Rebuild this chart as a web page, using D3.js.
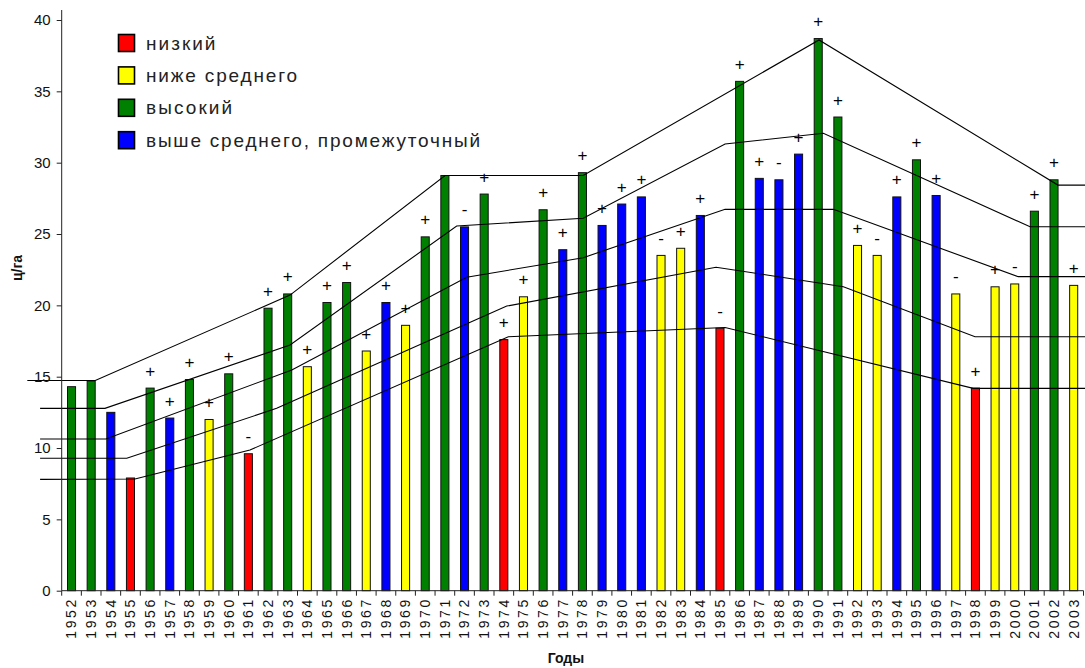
<!DOCTYPE html>
<html><head><meta charset="utf-8">
<script src="https://cdn.jsdelivr.net/npm/d3@7/dist/d3.min.js"></script>
<style>body{margin:0;background:#fff}</style>
</head><body>
<svg id="c" width="1085" height="668"></svg>
<script>
const years = [1952,1953,1954,1955,1956,1957,1958,1959,1960,1961,
  1962,1963,1964,1965,1966,1967,1968,1969,1970,1971,
  1972,1973,1974,1975,1976,1977,1978,1979,1980,1981,
  1982,1983,1984,1985,1986,1987,1988,1989,1990,1991,
  1992,1993,1994,1995,1996,1997,1998,1999,2000,2001,
  2002,2003];
const yields = [14.3,14.7,12.5,7.9,14.2,12.1,14.8,12.0,15.2,9.6,
  19.8,20.8,15.7,20.2,21.6,16.8,20.2,18.6,24.8,29.1,
  25.5,27.8,17.6,20.6,26.7,23.9,29.3,25.6,27.1,27.6,
  23.5,24.0,26.3,18.4,35.7,28.9,28.8,30.6,38.7,33.2,
  24.2,23.5,27.6,30.2,27.7,20.8,14.2,21.3,21.5,26.6,
  28.8,21.4];
const classes = ["high","high","above","low","high","above","high","below","high","low",
  "high","high","below","high","high","below","above","below","high","high",
  "above","high","low","below","high","above","high","above","above","above",
  "below","below","above","low","high","above","above","above","high","high",
  "below","below","above","high","above","below","low","below","below","high",
  "high","below"];
const signs = ["","","","","+","+","+","+","+","-",
  "+","+","+","+","+","+","+","+","+","",
  "-","+","+","+","+","+","+","+","+","+",
  "-","+","+","-","+","+","-","+","+","+",
  "+","-","+","+","+","-","+","+","-","+",
  "+","+"];
const legendKeys = ["low","below","high","above"];
const legendLabels = ["низкий","ниже среднего","высокий","выше среднего, промежуточный"];
const classColors = ["#ff0000","#ffff00","#008000","#0000ff"];
const yTicks = [0,5,10,15,20,25,30,35,40];
// threshold lines: [year position, value]
const line1 = [[1949.75,14.73],[1953.21,14.73],[1963.12,20.72],[1971.01,29.1],[1978.04,29.1],[1990.04,38.6],[2002.2,28.43],[2003.58,28.43]];
const line2 = [[1950.4,12.78],[1953.7,12.78],[1963.12,17.22],[1971.6,25.56],[1978.04,26.1],[1985.26,31.31],[1990.26,32.06],[2000.78,25.51],[2003.58,25.51]];
const line3 = [[1950.4,10.63],[1953.75,10.63],[1963.21,15.47],[1972.11,21.97],[1978.04,23.34],[1985.26,26.73],[1990.77,26.73],[2000.18,22.01],[2003.58,22.01]];
const line4 = [[1950.4,9.28],[1954.81,9.28],[1962.44,12.78],[1974.15,19.95],[1984.8,22.67],[1991.28,21.31],[1997.98,17.8],[2003.58,17.8]];
const line5 = [[1950.4,7.8],[1955.23,7.83],[1961.08,9.86],[1974.23,17.8],[1985.26,18.45],[1997.89,14.18],[2003.58,14.18]];
const yTitle = "ц/га";
const xTitle = "Годы";

const svg = d3.select("#c");
const X0 = 61.7, X1 = 1083.5, Y0 = 590.7, Y1 = 20;
const color = d3.scaleOrdinal().domain(legendKeys).range(classColors);
const x = d3.scaleBand().domain(years).range([X0, X1]).paddingInner(0.59).paddingOuter(0.295);
const y = d3.scaleLinear().domain([0, 40]).range([Y0, Y1]);
const bw = x.bandwidth();
const gap = (x.step() - bw) / 2;
const xLin = d3.scaleLinear().domain([years[0], years[years.length-1]])
  .range([x(years[0]) + bw/2, x(years[years.length-1]) + bw/2]);
const font = "'Liberation Sans', Arial, sans-serif";

// bars
svg.append("g").selectAll("rect").data(years).join("rect")
  .attr("x", d => x(d)).attr("width", bw)
  .attr("y", (d,i) => y(yields[i])).attr("height", (d,i) => Y0 - y(yields[i]))
  .attr("fill", (d,i) => color(classes[i]))
  .attr("stroke", "#111").attr("stroke-width", 1);

// lines
const lineGen = d3.line().x(d => xLin(d[0])).y(d => y(d[1]));
svg.append("g").selectAll("path").data([line1,line2,line3,line4,line5]).join("path")
  .attr("d", lineGen).attr("fill", "none").attr("stroke", "#000").attr("stroke-width", 1.1);

// signs
svg.append("g").selectAll("text").data(years).join("text")
  .attr("x", d => x(d) + bw/2).attr("y", (d,i) => y(yields[i]) - 11.5)
  .attr("text-anchor", "middle").attr("font-family", font).attr("font-size", 17)
  .attr("fill", "#000")
  .text((d,i) => signs[i]);

// y axis
const yAxis = svg.append("g").attr("transform", `translate(${X0},0)`)
  .call(d3.axisLeft(y).tickValues(yTicks).tickSize(5).tickPadding(6));
yAxis.select(".domain").remove();
yAxis.selectAll("text").attr("font-family", font).attr("font-size", 15).attr("fill", "#111");
yAxis.selectAll("line").attr("stroke", "#222");
svg.append("line").attr("x1", X0).attr("x2", X0).attr("y1", 10).attr("y2", Y0).attr("stroke", "#222");

// x axis
svg.append("line").attr("x1", X0).attr("x2", X1).attr("y1", Y0).attr("y2", Y0).attr("stroke", "#222");
svg.append("g").selectAll("line").data(years.concat([null])).join("line")
  .attr("x1", (d,i) => i < years.length ? x(d) - gap : x(years[years.length-1]) + bw + gap)
  .attr("x2", (d,i) => i < years.length ? x(d) - gap : x(years[years.length-1]) + bw + gap)
  .attr("y1", Y0).attr("y2", Y0 + 5).attr("stroke", "#222");
svg.append("g").selectAll("text").data(years).join("text")
  .attr("transform", d => `translate(${x(d) + bw/2},${Y0 + 9}) rotate(-90)`)
  .attr("text-anchor", "end").attr("dy", "0.35em")
  .attr("font-family", font).attr("font-size", 14).attr("fill", "#111")
  .attr("textLength", 39).attr("lengthAdjust", "spacing")
  .text(d => d);

// titles
svg.append("text").attr("transform", `translate(22,268) rotate(-90)`)
  .attr("text-anchor", "middle").attr("font-family", font).attr("font-weight", "bold")
  .attr("font-size", 14).attr("fill", "#111").text(yTitle);
svg.append("text").attr("x", 566).attr("y", 663)
  .attr("text-anchor", "middle").attr("font-family", font).attr("font-weight", "bold")
  .attr("font-size", 14).attr("fill", "#111").text(xTitle);

// legend
const lg = svg.append("g");
legendKeys.forEach((k, i) => {
  const cy = 43 + i * 32.4;
  lg.append("rect").attr("x", 118.5).attr("y", cy - 8.5).attr("width", 16).attr("height", 17)
    .attr("fill", color(k)).attr("stroke", "#000").attr("stroke-width", 1.6);
  lg.append("text").attr("x", 146).attr("y", cy + 6.5)
    .attr("font-family", font).attr("font-size", 19).attr("fill", "#222")
    .attr("class", "lt").text(legendLabels[i]);
});
// stretch legend text to match the reference's letter spacing
const lts = lg.selectAll(".lt");
const longW = lts.nodes()[3].getComputedTextLength();
const s = 334 / longW;
lts.each(function() {
  const w = this.getComputedTextLength();
  d3.select(this).attr("textLength", w * s).attr("lengthAdjust", "spacing");
});
</script>
</body></html>
